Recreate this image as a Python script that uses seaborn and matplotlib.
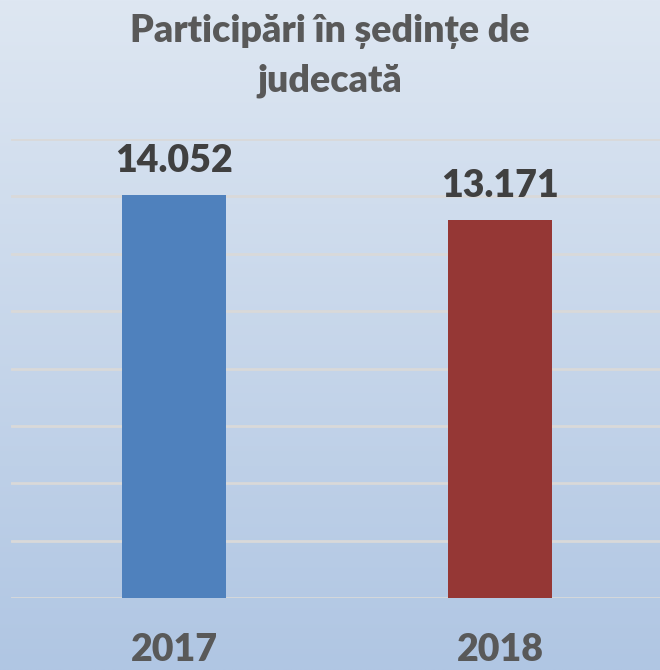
import numpy as np
import pandas as pd
import matplotlib
matplotlib.use("Agg")
import matplotlib.pyplot as plt
import seaborn as sns

# data
years = ["2017", "2018"]
values = [14052, 13171]
labels = ["14.052", "13.171"]
bar_colors = ["#4f81bd", "#953735"]

sns.set_style("white")
plt.rcParams["font.family"] = ["Lato", "DejaVu Sans"]

df = pd.DataFrame({"An": years, "Participari": values})

fig = plt.figure(figsize=(6.6, 6.7), dpi=100)

# background gradient light blue -> darker blue
bg = fig.add_axes([0, 0, 1, 1], zorder=0)
top = np.array([222, 231, 242]) / 255
bottom = np.array([176, 198, 227]) / 255
t = np.linspace(0, 1, 256)[:, None]
grad = top + (bottom - top) * t
grad = np.repeat(grad[:, None, :], 2, axis=1)
bg.imshow(grad, aspect="auto", extent=[0, 1, 0, 1])
bg.axis("off")

ax = fig.add_axes([11 / 660, 72 / 670, 652 / 660, 459 / 670], zorder=1)
ax.patch.set_alpha(0)

sns.barplot(data=df, x="An", y="Participari", hue="An", palette=bar_colors,
            width=0.316, saturation=1, linewidth=0, legend=False, ax=ax,
            zorder=3)

ax.set_ylim(0, 16000)
ax.set_yticks(np.arange(0, 16001, 2000))
ax.yaxis.grid(True, color="#d9d9d9", linewidth=2, zorder=0)
ax.set_axisbelow(True)
ax.tick_params(axis="y", left=False, labelleft=False)
ax.tick_params(axis="x", bottom=False, pad=22)
for lbl in ax.get_xticklabels():
    lbl.set_fontsize(27)
    lbl.set_fontweight("heavy")
    lbl.set_color("#595959")
ax.set_xlabel("")
ax.set_ylabel("")
sns.despine(ax=ax, left=True, bottom=True)

# value labels above bars
for i, v in enumerate(values):
    ax.annotate(labels[i], (i, v), xytext=(0, 12), textcoords="offset points",
                ha="center", va="bottom", fontsize=27, fontweight="heavy",
                color="#404040")

fig.text(0.5, 1 - 42 / 670, "Participări în ședințe de", ha="center",
         va="baseline", fontsize=27, fontweight="heavy", color="#595959")
fig.text(0.5, 1 - 91 / 670, "judecată", ha="center", va="baseline",
         fontsize=27, fontweight="heavy", color="#595959")

fig.savefig("out.png", dpi=100)
